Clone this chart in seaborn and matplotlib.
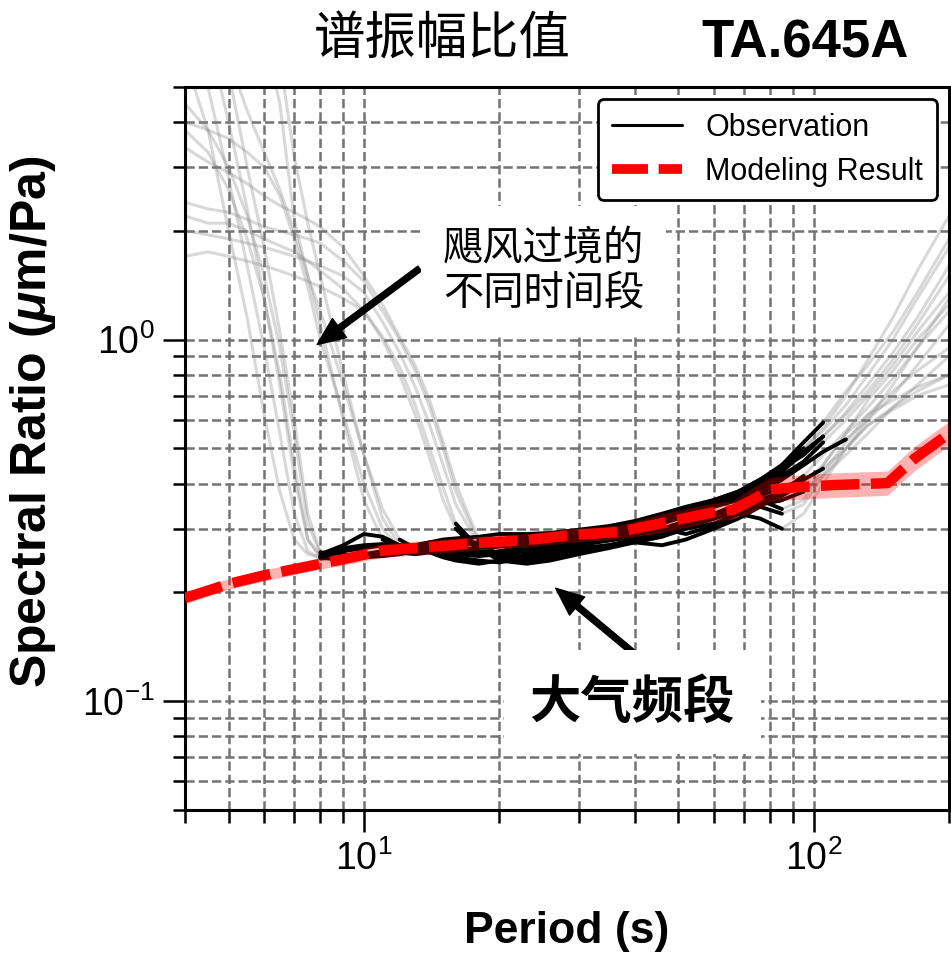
import matplotlib
matplotlib.use("Agg")
import matplotlib.pyplot as plt
import pandas as pd
import seaborn as sns
from matplotlib.lines import Line2D
from matplotlib.ticker import NullFormatter

# Period grid (s) shared by all observation windows
period = [4, 4.5, 5, 5.5, 6, 6.5, 7, 7.5, 8, 9, 10, 11, 12, 13, 14, 15, 16, 18,
          20, 23, 26, 30, 35, 40, 46, 52, 60, 68, 76, 85, 95, 105, 118, 132,
          150, 170, 200]

# Spectral ratio (um/Pa) of each time window during the hurricane passage
win01 = [6.0, 3.8, 2.0, 1.15, 0.62, 0.38, 0.28, 0.255, 0.25, 0.26, 0.265, 0.27, 0.268, 0.27, 0.275, 0.272, 0.27, 0.275, 0.28, 0.285, 0.29, 0.295, 0.30, 0.31, 0.325, 0.34, 0.355, 0.37, 0.40, 0.45, 0.52, 0.59, 0.72, 0.85, 1.05, 1.35, 1.9]
win02 = [8.0, 5.0, 2.8, 1.6, 0.95, 0.55, 0.33, 0.26, 0.248, 0.25, 0.255, 0.26, 0.258, 0.255, 0.258, 0.262, 0.26, 0.262, 0.268, 0.272, 0.278, 0.283, 0.29, 0.295, 0.31, 0.325, 0.345, 0.365, 0.39, 0.43, 0.49, 0.54, 0.62, 0.72, 0.88, 1.1, 1.5]
win03 = [12, 7.0, 4.0, 2.3, 1.3, 0.75, 0.42, 0.28, 0.252, 0.265, 0.27, 0.272, 0.27, 0.268, 0.265, 0.262, 0.258, 0.255, 0.26, 0.268, 0.275, 0.28, 0.285, 0.29, 0.30, 0.315, 0.33, 0.35, 0.375, 0.41, 0.45, 0.49, 0.53, 0.6, 0.7, 0.85, 1.1]
win04 = [4.5, 3.8, 3.0, 2.2, 1.5, 0.95, 0.55, 0.31, 0.255, 0.27, 0.29, 0.285, 0.27, 0.265, 0.268, 0.265, 0.262, 0.265, 0.27, 0.275, 0.28, 0.288, 0.295, 0.305, 0.32, 0.335, 0.35, 0.36, 0.37, 0.39, 0.41, 0.44, 0.5, 0.6, 0.75, 0.95, 1.3]
win05 = [18, 10, 5.5, 3.0, 1.8, 1.05, 0.6, 0.33, 0.258, 0.255, 0.25, 0.252, 0.255, 0.26, 0.258, 0.25, 0.245, 0.24, 0.245, 0.255, 0.262, 0.27, 0.278, 0.285, 0.295, 0.31, 0.325, 0.34, 0.35, 0.36, 0.38, 0.42, 0.48, 0.55, 0.65, 0.75, 0.9]
win06 = [3.8, 3.3, 2.6, 1.9, 1.3, 0.8, 0.45, 0.28, 0.25, 0.245, 0.25, 0.255, 0.26, 0.262, 0.26, 0.255, 0.25, 0.245, 0.242, 0.25, 0.258, 0.265, 0.27, 0.278, 0.29, 0.30, 0.31, 0.33, 0.32, 0.30, 0.33, 0.4, 0.5, 0.58, 0.65, 0.72, 0.8]
win07 = [2.4, 2.3, 2.25, 2.15, 2.05, 2.0, 1.95, 1.9, 1.85, 1.65, 1.45, 1.2, 1.0, 0.82, 0.65, 0.5, 0.38, 0.275, 0.268, 0.272, 0.278, 0.285, 0.292, 0.30, 0.315, 0.332, 0.35, 0.37, 0.395, 0.44, 0.5, 0.56, 0.66, 0.8, 1.0, 1.3, 1.8]
win08 = [2.0, 1.95, 1.9, 1.85, 1.8, 1.75, 1.7, 1.65, 1.6, 1.5, 1.35, 1.12, 0.92, 0.74, 0.58, 0.45, 0.35, 0.27, 0.255, 0.25, 0.255, 0.262, 0.27, 0.28, 0.29, 0.305, 0.32, 0.34, 0.36, 0.34, 0.36, 0.45, 0.55, 0.62, 0.68, 0.74, 0.8]
win09 = [1.7, 1.75, 1.7, 1.65, 1.6, 1.55, 1.5, 1.45, 1.4, 1.3, 1.2, 1.02, 0.84, 0.66, 0.5, 0.39, 0.31, 0.265, 0.245, 0.24, 0.245, 0.255, 0.265, 0.275, 0.285, 0.30, 0.32, 0.335, 0.355, 0.37, 0.4, 0.45, 0.55, 0.68, 0.82, 1.0, 1.25]
win10 = [3.4, 3.1, 2.9, 2.7, 2.5, 2.35, 2.25, 2.15, 2.05, 1.8, 1.5, 1.25, 1.02, 0.85, 0.68, 0.52, 0.4, 0.28, 0.275, 0.28, 0.288, 0.295, 0.302, 0.31, 0.325, 0.34, 0.36, 0.38, 0.41, 0.45, 0.5, 0.57, 0.7, 0.88, 1.15, 1.55, 2.2]
win11 = [2.2, 2.1, 2.1, 2.0, 1.9, 1.82, 1.75, 1.65, 1.55, 1.38, 1.2, 1.0, 0.8, 0.62, 0.47, 0.36, 0.3, 0.26, 0.25, 0.245, 0.25, 0.26, 0.268, 0.275, 0.27, 0.28, 0.30, 0.32, 0.345, 0.33, 0.35, 0.42, 0.5, 0.58, 0.64, 0.7, 0.75]
win12 = [30, 20, 15, 10, 7.0, 4.5, 2.15, 1.5, 1.1, 0.6, 0.36, 0.28, 0.265, 0.27, 0.275, 0.28, 0.282, 0.285, 0.29, 0.29, 0.292, 0.298, 0.305, 0.315, 0.33, 0.345, 0.36, 0.38, 0.41, 0.44, 0.48, 0.54, 0.63, 0.75, 0.92, 1.15, 1.6]
win13 = [40, 28, 20, 14, 9.0, 6.0, 3.2, 2.1, 1.5, 0.8, 0.48, 0.32, 0.27, 0.265, 0.26, 0.258, 0.255, 0.252, 0.255, 0.26, 0.265, 0.272, 0.28, 0.288, 0.30, 0.31, 0.32, 0.34, 0.36, 0.38, 0.42, 0.48, 0.56, 0.65, 0.78, 0.95, 1.2]
win14 = [4.0, 3.8, 3.6, 3.3, 3.0, 2.5, 1.9, 1.4, 1.0, 0.62, 0.4, 0.3, 0.265, 0.262, 0.265, 0.27, 0.268, 0.262, 0.258, 0.262, 0.27, 0.278, 0.285, 0.29, 0.30, 0.29, 0.305, 0.33, 0.35, 0.36, 0.38, 0.43, 0.52, 0.62, 0.72, 0.82, 0.95]
win15 = [12, 8.5, 6.0, 4.3, 3.3, 2.6, 2.0, 1.5, 1.2, 0.75, 0.48, 0.34, 0.28, 0.265, 0.262, 0.265, 0.27, 0.275, 0.278, 0.282, 0.288, 0.293, 0.30, 0.308, 0.318, 0.33, 0.345, 0.36, 0.385, 0.42, 0.46, 0.52, 0.6, 0.7, 0.85, 1.05, 1.35]

# First/last grid index of the atmospheric band used as observation
atm_start = [8, 8, 8, 8, 8, 8, 17, 17, 16, 17, 16, 11, 12, 12, 12]
atm_end = [31, 31, 32, 31, 30, 29, 30, 29, 30, 30, 29, 31, 30, 29, 31]

# Modelled spectral ratio and its uncertainty band
model_period = [4, 5, 6, 7, 8, 9, 11, 14, 18, 23, 29, 37, 46, 59, 66, 73, 80, 90, 110, 146, 168, 200]
model_ratio = [0.193, 0.211, 0.223, 0.232, 0.240, 0.247, 0.261, 0.267, 0.274, 0.279, 0.288, 0.294, 0.311, 0.332, 0.338, 0.360, 0.385, 0.390, 0.396, 0.401, 0.470, 0.550]
model_lower = [0.186, 0.204, 0.215, 0.224, 0.232, 0.238, 0.250, 0.255, 0.262, 0.267, 0.275, 0.281, 0.293, 0.313, 0.319, 0.333, 0.356, 0.361, 0.366, 0.371, 0.435, 0.509]
model_upper = [0.200, 0.218, 0.231, 0.240, 0.248, 0.256, 0.273, 0.279, 0.286, 0.291, 0.301, 0.307, 0.330, 0.352, 0.358, 0.389, 0.416, 0.421, 0.428, 0.433, 0.508, 0.594]

sns.set_theme(style="white")
plt.rcParams["font.family"] = ["Liberation Sans", "Noto Sans CJK SC"]
plt.rcParams["mathtext.fontset"] = "custom"
plt.rcParams["mathtext.rm"] = "Liberation Sans"
plt.rcParams["mathtext.it"] = "Liberation Sans:italic:bold"
plt.rcParams["mathtext.bf"] = "Liberation Sans:bold"
for key in ["text.color", "axes.labelcolor", "xtick.color", "ytick.color",
            "axes.edgecolor"]:
    plt.rcParams[key] = "black"

windows = [win01, win02, win03, win04, win05, win06, win07, win08,
           win09, win10, win11, win12, win13, win14, win15]
rows = []
for w, vals in enumerate(windows):
    for j, (p, v) in enumerate(zip(period, vals)):
        rows.append({"window": w, "period": p, "ratio": v,
                     "atm": atm_start[w] <= j <= atm_end[w]})
df = pd.DataFrame(rows)

fig = plt.figure(figsize=(9.51, 9.55), dpi=100)
ax = fig.add_axes([185 / 951, 1 - 810 / 955, (949 - 185) / 951, (810 - 87) / 955])
ax.set_xscale("log")
ax.set_yscale("log")

# every window over the full period range
sns.lineplot(data=df, x="period", y="ratio", units="window", estimator=None,
             color="0.5", alpha=0.3, lw=2.2, legend=False, ax=ax, zorder=2)
# atmospheric-band part of each window
sns.lineplot(data=df[df["atm"]], x="period", y="ratio", units="window",
             estimator=None, color="black", lw=2.8, legend=False, ax=ax, zorder=3)
# model uncertainty and model curve
ax.fill_between(model_period, model_lower, model_upper, color="red",
                alpha=0.3, lw=0, zorder=4)
sns.lineplot(x=model_period, y=model_ratio, color="red", lw=7.5,
             linestyle=(0, (3.7, 1.1)), errorbar=None, ax=ax, zorder=5)

ax.set_xlim(4, 200)
ax.set_ylim(0.05, 5)
ax.grid(True, which="both", ls="--", color="0.45", lw=1.8)
ax.xaxis.set_minor_formatter(NullFormatter())
ax.yaxis.set_minor_formatter(NullFormatter())
ax.tick_params(which="major", direction="out", length=16, width=1.8,
               labelsize=27, pad=6, bottom=True, left=True, top=False,
               right=False, colors="black")
ax.tick_params(which="minor", direction="out", length=9, width=1.8,
               bottom=True, left=True, top=False, right=False, colors="black")
for s in ax.spines.values():
    s.set_linewidth(2.2)
    s.set_color("black")

ax.set_xlabel("Period (s)", fontsize=32, fontweight="bold")
ax.set_ylabel(r"Spectral Ratio ($\mu$m/Pa)", fontsize=36, fontweight="bold")
ax.xaxis.set_label_coords(0.5, -0.14)
ax.yaxis.set_label_coords(-0.166, 0.537)

# annotations
ax.text(25.1, 1.548, "飓风过境的\n不同时间段", family="Noto Sans CJK SC",
        fontsize=29, ha="center", va="center", linespacing=1.12,
        bbox=dict(boxstyle="square,pad=0.55", fc="white", ec="none"), zorder=7)
ax.text(39.5, 0.0994, "大气频段", family="Noto Sans CJK SC", fontweight="bold",
        fontsize=37, ha="center", va="center",
        bbox=dict(boxstyle="square,pad=0.5", fc="white", ec="none"), zorder=7)
arrow_kw = dict(facecolor="black", edgecolor="black", width=4.3,
                headwidth=17, headlength=20, shrink=0)
ax.annotate("", xy=(7.87, 0.969), xytext=(13.3, 1.573),
            arrowprops=arrow_kw, zorder=6)
ax.annotate("", xy=(26.7, 0.2053), xytext=(40.8, 0.1324),
            arrowprops=arrow_kw, zorder=6)

handles = [Line2D([0], [0], color="black", lw=2.2),
           Line2D([0], [0], color="red", lw=7, ls=(0, (3.7, 1.1)))]
leg = ax.legend(handles, ["Observation", "Modeling Result"], loc="upper right",
                fontsize=22, frameon=True, framealpha=1, edgecolor="black",
                fancybox=True, handlelength=2.3, handletextpad=0.75,
                borderaxespad=0.4, borderpad=0.45, labelspacing=0.45)
leg.get_frame().set_linewidth(2)
leg.set_zorder(8)

fig.text(442 / 951, 1 - 40 / 955, "谱振幅比值", family="Noto Sans CJK SC",
         fontsize=37, ha="center", va="center")
fig.text(805 / 951, 1 - 44 / 955, "TA.645A", fontsize=38, fontweight="bold",
         ha="center", va="center")

fig.savefig("out.png", dpi=100)
